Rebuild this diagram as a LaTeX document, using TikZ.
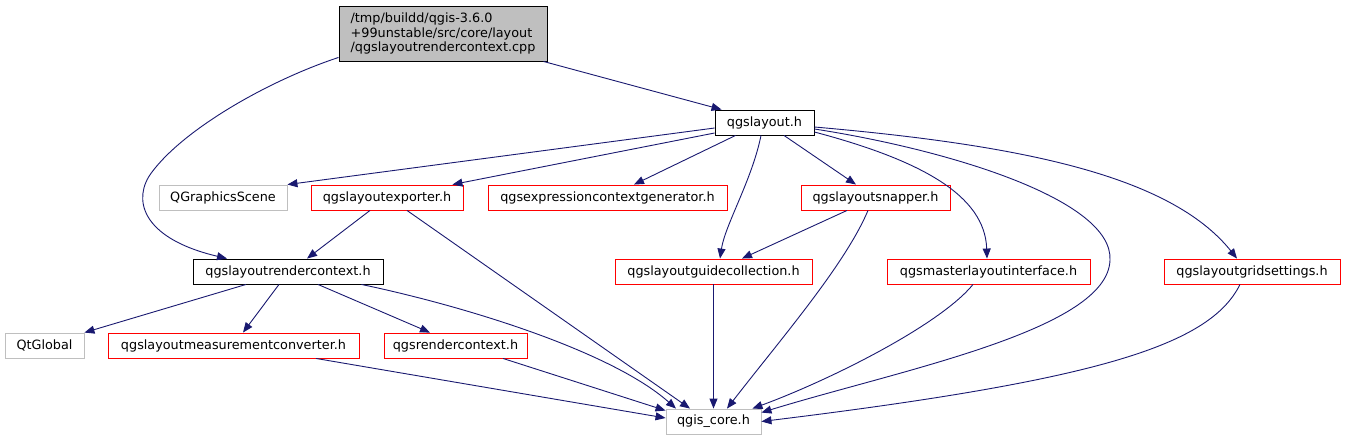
\documentclass[tikz,border=0pt]{standalone}
\usepackage{fontspec}
\setmainfont{DejaVu Sans}
\usetikzlibrary{arrows.meta}
\definecolor{edgeblue}{HTML}{191970}
\definecolor{graybd}{HTML}{BFBFBF}
\definecolor{rootfill}{HTML}{BFBFBF}
\definecolor{redbd}{HTML}{FF0000}
\begin{document}
\begin{tikzpicture}[x=1pt,y=-1pt,
  box/.style={draw, line width=0.9pt, inner sep=0pt, minimum height=25pt, font=\fontsize{12.8}{14.5}\selectfont, text=black},
  blackbox/.style={box, draw=black},
  graybox/.style={box, draw=graybd},
  redbox/.style={box, draw=redbd},
  rootbox/.style={box, draw=black, fill=rootfill, align=left},
  dep/.style={draw=edgeblue, line width=0.9pt, -{Triangle[length=10pt,width=8pt]}}]
\useasboundingbox (0,0) rectangle (1345,440);
% nodes
\node[rootbox, minimum width=208pt, minimum height=55pt] (root) at (443,33.5) {/tmp/buildd/qgis-3.6.0\\+99unstable/src/core/layout\\/qgslayoutrendercontext.cpp};
\node[blackbox, minimum width=99pt] (layout) at (764.5,122.5) {qgslayout.h};
\node[graybox, minimum width=128pt] (qgscene) at (223,197.5) {QGraphicsScene};
\node[redbox, minimum width=152pt] (exporter) at (387,197.5) {qgslayoutexporter.h};
\node[redbox, minimum width=239pt] (expr) at (607.5,197.5) {qgsexpressioncontextgenerator.h};
\node[redbox, minimum width=149pt] (snapper) at (875.5,197.5) {qgslayoutsnapper.h};
\node[blackbox, minimum width=190pt] (rctx) at (288,271.5) {qgslayoutrendercontext.h};
\node[redbox, minimum width=197pt] (guide) at (713.5,271.5) {qgslayoutguidecollection.h};
\node[redbox, minimum width=203pt] (master) at (988.5,271.5) {qgsmasterlayoutinterface.h};
\node[redbox, minimum width=176pt] (grid) at (1252,271.5) {qgslayoutgridsettings.h};
\node[graybox, minimum width=79pt] (qtglobal) at (44.5,345.5) {QtGlobal};
\node[redbox, minimum width=251pt] (measure) at (233.5,345.5) {qgslayoutmeasurementconverter.h};
\node[redbox, minimum width=143pt] (render) at (455.5,345.5) {qgsrendercontext.h};
\node[graybox, minimum width=95pt] (core) at (713.5,421.5) {qgis\_core.h};
% edges
\draw[dep] ([xshift=-4pt]root.south east) -- ([xshift=7pt]layout.north west);
\draw[dep] ([yshift=4pt]root.south west) .. controls (270,80) and (185,128) .. (152,172)
  .. controls (132,198) and (140,238) .. ([xshift=-61pt]rctx.north);
\draw[dep] ([yshift=-5.5pt]layout.west) -- (qgscene.north east);
\draw[dep] ([yshift=-10.5pt]layout.west) -- ([xshift=-11pt]exporter.north east);
\draw[dep] ([xshift=21pt]layout.south west) -- ([xshift=26.5pt]expr.north);
\draw[dep] ([xshift=-3.5pt]layout.south) .. controls (752,180) and (725,225) .. ([xshift=6.5pt]guide.north);
\draw[dep] ([xshift=19.5pt]layout.south) -- ([xshift=-19.5pt]snapper.north);
\draw[dep] ([yshift=-9.5pt]layout.east) .. controls (920,160) and (985,195) .. ([xshift=-1.5pt]master.north);
\draw[dep] ([yshift=-6.5pt]layout.east) .. controls (950,150) and (1113,200) .. (1110,260)
  .. controls (1108,330) and (900,370) .. ([yshift=-4pt]core.north east);
\draw[dep] ([yshift=-4.5pt]layout.east) .. controls (1020,145) and (1170,175) .. ([xshift=-15pt]grid.north);
\draw[dep] ([xshift=-17pt]exporter.south) -- ([xshift=19pt]rctx.north);
\draw[dep] ([xshift=20pt]exporter.south) -- ([xshift=-23.5pt]core.north);
\draw[dep] ([xshift=-28.5pt]snapper.south) -- ([xshift=28.5pt]guide.north);
\draw[dep] ([xshift=-7.5pt]snapper.south) .. controls (845,265) and (780,340) .. ([xshift=13.5pt]core.north);
\draw[dep] (guide.south) -- (core.north);
\draw[dep] ([xshift=-15.5pt]master.south) .. controls (940,325) and (830,380) .. ([xshift=-9pt]core.north east);
\draw[dep] ([xshift=-12pt]grid.south) .. controls (1210,345) and (1100,380) .. (core.east);
\draw[dep] ([xshift=-42pt]rctx.south) -- (qtglobal.north east);
\draw[dep] ([xshift=-9pt]rctx.south) -- ([xshift=9.5pt]measure.north);
\draw[dep] ([xshift=30pt]rctx.south) -- ([xshift=-25.5pt]render.north);
\draw[dep] ([xshift=-22pt]rctx.south east) .. controls (460,305) and (610,350) .. ([xshift=-37.5pt]core.north);
\draw[dep] ([xshift=82.5pt]measure.south) -- ([yshift=3.5pt]core.west);
\draw[dep] ([xshift=47.5pt]render.south) -- ([yshift=-2pt]core.north west);
\end{tikzpicture}
\end{document}
